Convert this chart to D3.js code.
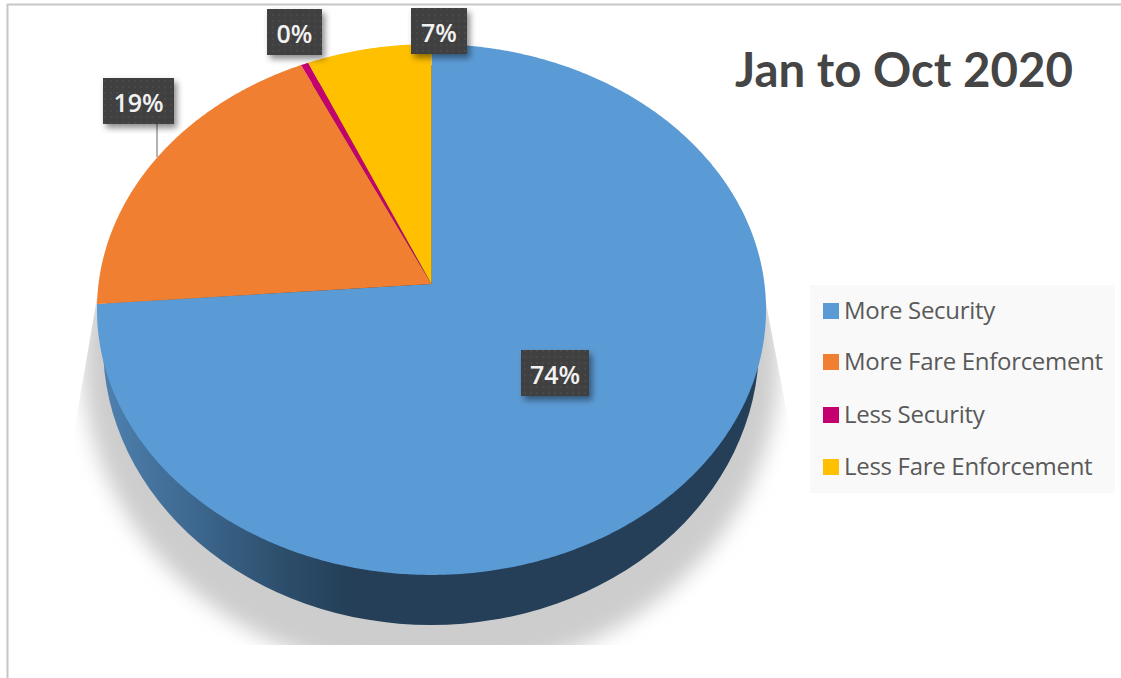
<!DOCTYPE html>
<html>
<head>
<meta charset="utf-8">
<script src="https://cdn.jsdelivr.net/npm/d3@7"></script>
<style>
html,body{margin:0;padding:0;background:#fff;overflow:hidden}
svg{display:block}
text{font-family:"Open Sans",sans-serif}
</style>
</head>
<body>
<svg id="chart" width="1121" height="678"></svg>
<script>
// Survey responses, Jan to Oct 2020 (percent of total)
const categories = ["More Security", "More Fare Enforcement", "Less Security", "Less Fare Enforcement"];
const shares = [73.8, 19.2, 0.4, 6.6];
const colors = ["#5B9BD5", "#F07F32", "#C5006F", "#FFC000"];
const chartTitle = "Jan to Oct 2020";

// Callout boxes for the percentage labels: [left, top, right, bottom]
const calloutBoxes = [[521, 350, 589, 396], [103, 78, 174, 124], [267, 9, 322, 55], [411, 8, 467, 54]];
const legendRows = [311, 362, 415, 467];

const svg = d3.select("#chart");
const defs = svg.append("defs");

// Tilted disc: a perspective mapping of the unit circle onto the page
const apex = {x: 431.5, y: 284}, scaleX = 333, scaleY = 263, tilt = -0.096;
const project = a => {
  const u = Math.sin(a), v = -Math.cos(a), w = 1 + tilt * v;
  return [apex.x + scaleX * u / w, apex.y + scaleY * v / w];
};

const slices = d3.pie().sort(null).value(d => d)(shares);
const outline = d3.line();
const wedgePath = s => {
  const n = Math.max(2, Math.ceil((s.endAngle - s.startAngle) * 120));
  const rim = d3.range(n + 1).map(i => project(s.startAngle + (s.endAngle - s.startAngle) * i / n));
  return outline([[apex.x, apex.y], ...rim]) + "Z";
};

// Soft ground shadow, cut off at the bottom of the plot area
defs.append("filter").attr("id", "groundBlur")
  .attr("x", "-10%").attr("y", "-10%").attr("width", "120%").attr("height", "120%")
  .append("feGaussianBlur").attr("stdDeviation", 10);
defs.append("clipPath").attr("id", "groundClip").append("path")
  .attr("d", "M97,298 L70,455 L70,645 L795,645 L795,455 L765,298Z");
svg.append("g").attr("clip-path", "url(#groundClip)")
  .append("ellipse")
  .attr("cx", 431).attr("cy", 362).attr("rx", 348).attr("ry", 314)
  .attr("fill", "#cdcdcd").attr("filter", "url(#groundBlur)");

// Side wall of the disc
const wall = defs.append("linearGradient").attr("id", "wallShade")
  .attr("gradientUnits", "userSpaceOnUse")
  .attr("x1", 100).attr("x2", 350).attr("y1", 0).attr("y2", 0);
[[0, "#4F81B0"], [0.4, "#3C668D"], [0.75, "#2C4D6A"], [1, "#243F57"]]
  .forEach(([o, c]) => wall.append("stop").attr("offset", o).attr("stop-color", c));
svg.append("ellipse")
  .attr("cx", 431).attr("cy", 345).attr("rx", 328).attr("ry", 280)
  .attr("fill", "url(#wallShade)");

// Top face
svg.append("g").selectAll("path").data(slices).join("path")
  .attr("d", wedgePath)
  .attr("fill", (d, i) => colors[i]);

// Frame lines along the top and left
svg.append("line").attr("x1", 7).attr("x2", 1121).attr("y1", 4.5).attr("y2", 4.5)
  .attr("stroke", "#c6c6c6").attr("stroke-width", 2);
svg.append("line").attr("x1", 7.5).attr("x2", 7.5).attr("y1", 4).attr("y2", 678)
  .attr("stroke", "#c6c6c6").attr("stroke-width", 2);

// Title
svg.append("text").attr("x", 735).attr("y", 87)
  .attr("font-size", 48).attr("font-weight", 700).attr("fill", "#454545")
  .style("font-family", "Lato, sans-serif")
  .attr("textLength", 338).attr("lengthAdjust", "spacingAndGlyphs")
  .text(chartTitle);

// Legend
svg.append("rect").attr("x", 810).attr("y", 285).attr("width", 305).attr("height", 208).attr("fill", "#f9f9f9");
const legend = svg.append("g").selectAll("g").data(categories).join("g")
  .attr("transform", (d, i) => `translate(823,${legendRows[i]})`);
legend.append("rect").attr("y", -8).attr("width", 16).attr("height", 16)
  .attr("fill", (d, i) => colors[i]);
legend.append("text").attr("x", 21).attr("y", 8)
  .attr("font-size", 24).attr("letter-spacing", -0.3).attr("fill", "#595959")
  .text(d => d);

// Leader line from the 19% callout to its slice
svg.append("line").attr("x1", 157).attr("x2", 157).attr("y1", 124).attr("y2", 157)
  .attr("stroke", "#7f7f7f").attr("stroke-width", 1.2);

// Percentage callouts: dark boxes with a fine dotted texture
const dots = defs.append("pattern").attr("id", "boxDots")
  .attr("width", 6).attr("height", 6).attr("patternUnits", "userSpaceOnUse");
dots.append("rect").attr("width", 6).attr("height", 6).attr("fill", "#3f3f3f");
dots.append("circle").attr("cx", 3).attr("cy", 3).attr("r", 0.8).attr("fill", "#565656");
const boxShadow = defs.append("filter").attr("id", "boxShadow")
  .attr("x", "-30%").attr("y", "-30%").attr("width", "160%").attr("height", "160%");
boxShadow.append("feDropShadow").attr("dx", 3).attr("dy", 4).attr("stdDeviation", 3)
  .attr("flood-color", "#000").attr("flood-opacity", 0.45);

const asPercent = d3.format(".0%");
const callouts = svg.append("g").selectAll("g").data(slices).join("g");
callouts.append("rect")
  .attr("x", (d, i) => calloutBoxes[i][0])
  .attr("y", (d, i) => calloutBoxes[i][1])
  .attr("width", (d, i) => calloutBoxes[i][2] - calloutBoxes[i][0])
  .attr("height", (d, i) => calloutBoxes[i][3] - calloutBoxes[i][1])
  .attr("fill", "url(#boxDots)").attr("filter", "url(#boxShadow)");
callouts.append("text")
  .attr("x", (d, i) => (calloutBoxes[i][0] + calloutBoxes[i][2]) / 2)
  .attr("y", (d, i) => (calloutBoxes[i][1] + calloutBoxes[i][3]) / 2 + 11)
  .attr("text-anchor", "middle")
  .attr("font-size", 25).attr("font-weight", 600).attr("fill", "#f2f2f2")
  .text(d => asPercent(d.data / 100));
</script>
</body>
</html>
